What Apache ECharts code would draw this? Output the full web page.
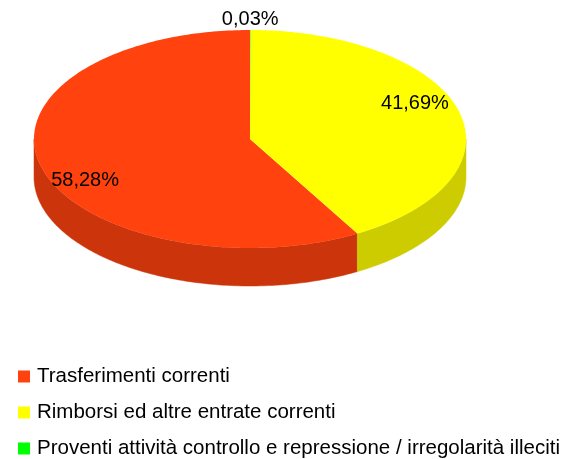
<!DOCTYPE html>
<html>
<head>
<meta charset="utf-8">
<style>
  html, body { margin: 0; padding: 0; background: #fff; }
  #chart { width: 564px; height: 459px; }
</style>
<script src="https://cdn.jsdelivr.net/npm/echarts@6/dist/echarts.min.js"></script>
</head>
<body>
<div id="chart"></div>
<script>
  // slice data (percent)
  const categories = [
    'Trasferimenti correnti',
    'Rimborsi ed altre entrate correnti',
    'Proventi attività controllo e repressione / irregolarità illeciti'
  ]
  const shares = [58.28, 41.69, 0.03]

  const topColors = ['#ff420e', '#ffff00', '#00ff00']
  const sideColors = ['#cc350b', '#cccc00', '#00cc00']

  // ellipse of the pie top, and wall height
  const geo = { cx: 250, cy: 139, rx: 216, ry: 109, depth: 38 }
  const FONT = '"Liberation Sans", Arial, sans-serif'

  const total = shares.reduce((a, b) => a + b, 0)

  // angle measured clockwise from 12 o'clock, in degrees
  function pt(deg, dy) {
    const r = deg * Math.PI / 180
    return [geo.cx + geo.rx * Math.sin(r), geo.cy - geo.ry * Math.cos(r) + (dy || 0)]
  }

  function arc(a0, a1, dy) {
    const pts = []
    for (let a = a0; a < a1; a += 1) pts.push(pt(a, dy))
    pts.push(pt(a1, dy))
    return pts
  }

  // slices run counter-clockwise starting at the top
  function sliceRange(i) {
    let before = 0
    for (let k = 0; k < i; k++) before += shares[k]
    const after = before + shares[i]
    return [360 - after / total * 360, 360 - before / total * 360]
  }

  function fmt(v) {
    return v.toFixed(2).replace('.', ',') + '%'
  }

  function renderItem(params, api) {
    const i = params.seriesIndex
    const [start, end] = sliceRange(i)
    const children = []

    // outer wall, only the front half shows
    const s0 = Math.max(start, 90)
    const s1 = Math.min(end, 270)
    if (s1 > s0) {
      const topArc = arc(s0, s1, 0)
      const botArc = arc(s0, s1, geo.depth).reverse()
      children.push({
        type: 'polygon',
        z2: 1,
        shape: { points: topArc.concat(botArc) },
        style: { fill: sideColors[i], stroke: sideColors[i], lineWidth: 0.5 }
      })
    }

    // top face
    children.push({
      type: 'polygon',
      z2: 10,
      shape: { points: [[geo.cx, geo.cy]].concat(arc(start, end, 0)) },
      style: { fill: topColors[i] }
    })

    // value label
    const mid = (start + end) / 2
    const r = mid * Math.PI / 180
    let lx, ly
    if (shares[i] / total < 0.05) {
      lx = geo.cx + (geo.rx + 11) * Math.sin(r)
      ly = geo.cy - (geo.ry + 11) * Math.cos(r)
    } else {
      lx = geo.cx + geo.rx * 0.79 * Math.sin(r)
      ly = geo.cy - geo.ry * 1.39 * Math.cos(r) + 3
    }
    children.push({
      type: 'text',
      z2: 20,
      style: {
        text: fmt(shares[i]),
        x: lx,
        y: ly,
        fill: '#000',
        fontSize: 20,
        fontFamily: FONT,
        align: 'center',
        verticalAlign: 'middle',
        textAlign: 'center',
        textVerticalAlign: 'middle'
      }
    })

    return { type: 'group', children: children }
  }

  const chart = echarts.init(document.getElementById('chart'))
  chart.setOption({
    animation: false,
    legend: {
      data: categories,
      orient: 'vertical',
      left: 18,
      top: 366,
      height: 120,
      padding: 0,
      icon: 'rect',
      itemWidth: 12,
      itemHeight: 12,
      itemGap: 15,
      textStyle: {
        fontSize: 20.5,
        lineHeight: 20,
        fontFamily: FONT,
        color: '#000',
        padding: [0, 0, 0, 2]
      }
    },
    series: categories.map((name, i) => ({
      type: 'custom',
      name: name,
      coordinateSystem: 'none',
      silent: true,
      itemStyle: { color: topColors[i] },
      renderItem: renderItem,
      data: [shares[i]]
    }))
  })
</script>
</body>
</html>
